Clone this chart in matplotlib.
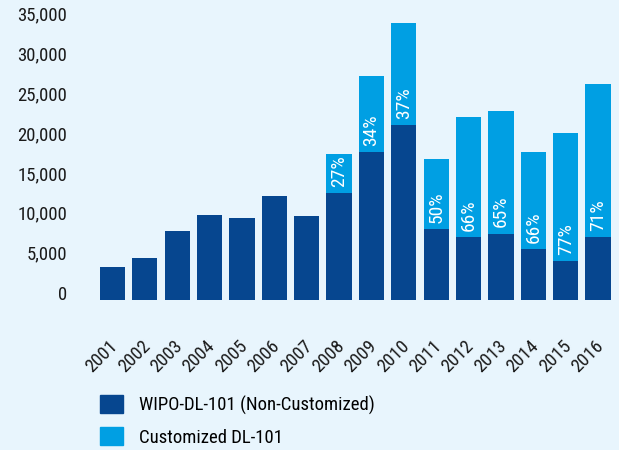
import numpy as np
import matplotlib
matplotlib.use('Agg')
import matplotlib.pyplot as plt
import matplotlib.transforms as mtransforms
from matplotlib.patches import Patch

plt.rcParams['font.family'] = ['Roboto Condensed', 'DejaVu Sans']

# data
years = [str(y) for y in range(2001, 2017)]
totals = [4080, 5200, 8600, 10600, 10230, 12990, 10480, 18260,
          28040, 34690, 17630, 22900, 23650, 18510, 20890, 27040]
custom_pct = [0, 0, 0, 0, 0, 0, 0, 27, 34, 37, 50, 66, 65, 66, 77, 71]
yticks = [0, 5000, 10000, 15000, 20000, 25000, 30000, 35000]

totals = np.array(totals)
custom = np.round(totals * np.array(custom_pct) / 100.0)
base = totals - custom

bg = '#e8f5fd'
dark = '#06468f'
light = '#009fe3'

fig = plt.figure(figsize=(6.19, 4.5), dpi=100, facecolor=bg)
ax = fig.add_axes([96.3 / 619, 150.5 / 450, 518 / 619, 299.5 / 450])
ax.set_facecolor(bg)

x = np.arange(len(years))
ax.bar(x, base, width=0.78, color=dark, label='WIPO-DL-101 (Non-Customized)')
ax.bar(x, custom, width=0.78, bottom=base, color=light, label='Customized DL-101')

# share of customized courses inside each light segment
for i, p in enumerate(custom_pct):
    if p > 0:
        ax.annotate(f'{p}%', (x[i], base[i]), xytext=(0, 4.5),
                    textcoords='offset points', rotation=90,
                    ha='center', va='bottom', color='white', fontsize=14)

ax.set_xlim(-0.5, len(years) - 0.5)
ax.set_ylim(0, 299.5 / 7.97 * 1000)
ax.set_yticks(yticks)
ax.set_yticklabels([f'{v:,}' for v in yticks], fontsize=13.5, color='#1a1a1a')
for lab in ax.get_yticklabels():
    lab.set_va('baseline')
ax.tick_params(axis='y', length=0, pad=21)

ax.set_xticks(x)
ax.set_xticklabels(years, rotation=45, ha='right', va='top',
                   fontsize=13.5, color='#1a1a1a')
ax.tick_params(axis='x', length=0, pad=27)
shift = mtransforms.ScaledTranslation(9 / 100, 0, fig.dpi_scale_trans)
for lab in ax.get_xticklabels():
    lab.set_transform(lab.get_transform() + shift)

for s in ax.spines.values():
    s.set_visible(False)

handles = [Patch(color=dark), Patch(color=light)]
fig.legend(handles, ['WIPO-DL-101 (Non-Customized)', 'Customized DL-101'],
           loc='upper left', bbox_to_anchor=(100 / 619, 1 - 395 / 450),
           frameon=False, fontsize=13.5, handlelength=1.22, handleheight=1.12,
           handletextpad=0.85, labelspacing=0.66, borderpad=0,
           borderaxespad=0)

fig.savefig('out.png', dpi=100, facecolor=bg)
